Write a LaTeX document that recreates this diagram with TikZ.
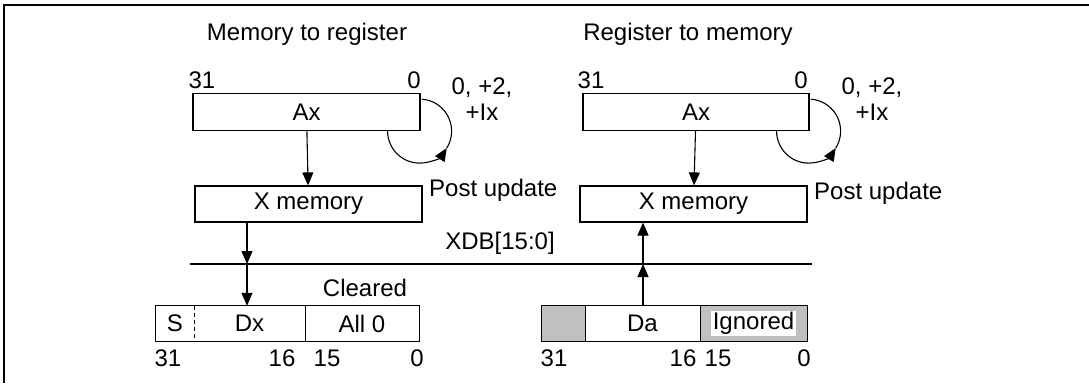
\documentclass[tikz,border=0pt]{standalone}
\usepackage{fontspec}
\setmainfont{Liberation Sans}
\usetikzlibrary{positioning,arrows.meta,calc}
\definecolor{fieldgray}{RGB}{192,192,192}
\begin{document}
\begin{tikzpicture}[x=1pt,y=-1pt,
      every node/.style={font=\fontsize{24}{26}\selectfont, inner sep=0pt},
      regbox/.style={rectangle, draw, line width=1.2pt, minimum height=37pt},
      field/.style={rectangle, minimum height=35pt},
      lbl/.style={anchor=center},
      arr/.style={-{Triangle[length=13pt,width=11pt]}, line width=1.1pt},
      bus/.style={line width=2.6pt}]
      \useasboundingbox (0,0) rectangle (1089,383);
      \draw[line width=2pt] (4,383) -- (4,5) -- (1089,5);
      % memory to register
      \node[lbl] (ltitle) at (307,34) {Memory to register};
      \node[regbox, minimum width=227pt] (lax) at (306.5,112) {Ax};
      \node[lbl] (lhi) at (202,80) {31};
      \node[lbl] (llo) at (414,80) {0};
      \node[lbl, align=center] (lstep) at (482,99) {0, +2,\\+Ix};
      \node[regbox, minimum width=227pt, minimum height=36pt] (lxm) at (308.5,204) {X memory};
      \node[anchor=west] (lpost) at (429,190) {Post update};
      % register to memory
      \node[lbl] (rtitle) at (688,34) {Register to memory};
      \node[regbox, minimum width=226pt] (rax) at (696,112) {Ax};
      \node[lbl] (rhi) at (591,80) {31};
      \node[lbl] (rlo) at (801,80) {0};
      \node[lbl, align=center] (rstep) at (872,99) {0, +2,\\+Ix};
      \node[regbox, minimum width=227pt, minimum height=36pt] (rxm) at (693.5,204) {X memory};
      \node[anchor=west] (rpost) at (814,193) {Post update};
      % data bus
      \coordinate (busW) at (190,264);
      \coordinate (busE) at (812,264);
      \coordinate (busL) at (247,264);
      \coordinate (busR) at (643,264);
      \draw[bus] (busW) -- (busE);
      \node[lbl] (xdb) at (500,243) {XDB[15:0]};
      % destination register
      \node[field, minimum width=38pt] (sgn) at (175,323.5) {S};
      \node[field, minimum width=111pt] (dx) at (249.5,323.5) {Dx};
      \node[field, minimum width=114pt] (zero) at (362,323.5) {All 0};
      \draw[line width=1.2pt] (sgn.north west) rectangle (zero.south east);
      \draw[line width=1.2pt] (dx.north east) -- (dx.south east);
      \draw[line width=1pt, dash pattern=on 4pt off 3pt] (sgn.north east) -- (sgn.south east);
      \node[lbl] (clr) at (365,288) {Cleared};
      \foreach \txt/\xx in {31/168, 16/282, 15/327, 0/417}
        \node[lbl] at (\xx,358) {\txt};
      % source register
      \node[field, minimum width=43pt, fill=fieldgray] (pad) at (563.5,323.5) {};
      \node[field, minimum width=115pt] (da) at (642.5,323.5) {Da};
      \node[field, minimum width=107pt, fill=fieldgray] (ign) at (753.5,323.5) {};
      \node[fill=white, inner sep=1.5pt] (igntxt) at (ign.center) {Ignored};
      \draw[line width=1.2pt] (pad.north west) rectangle (ign.south east);
      \draw[line width=1.2pt] (pad.north east) -- (pad.south east);
      \draw[line width=1.2pt] (da.north east) -- (da.south east);
      \foreach \txt/\xx in {31/554, 16/683, 15/718, 0/804}
        \node[lbl] at (\xx,358) {\txt};
      % address and data paths
      \draw[arr] (lax) -- (lxm);
      \draw[arr] (rax) -- (rxm);
      \draw[arr] (lxm.south -| busL) -- (busL);
      \draw[arr] (busL) -- (dx.north -| busL);
      \draw[arr] (da.north -| busR) -- (busR);
      \draw[arr] (busR) -- (rxm.south -| busR);
      % post-increment loops
      \coordinate (lloop) at ($(lax.south east)+(-1,0)$);
      \coordinate (rloop) at ($(rax.south east)+(-1,0)$);
      \foreach \c in {lloop, rloop} {
        \draw[arr] ([shift={(180:32)}]\c) arc[start angle=180, end angle=32, radius=32];
        \draw[line width=1.1pt] ([shift={(32:32)}]\c) arc[start angle=32, end angle=-86, radius=32];
      }
    \end{tikzpicture}
\end{document}
